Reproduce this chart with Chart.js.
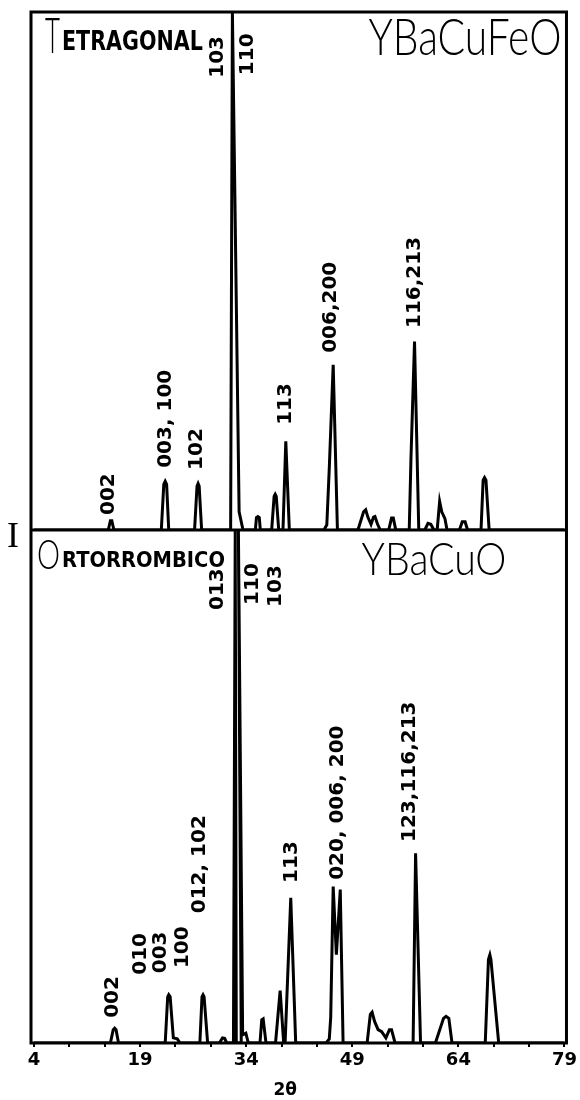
<!DOCTYPE html>
<html lang="es">
<head>
<meta charset="UTF-8">
<title>DRX YBaCuFeO / YBaCuO</title>
<style>
  html, body { margin: 0; padding: 0; background: #fff; }
  #drx { display: block; }
</style>
</head>
<body>
<canvas id="drx" width="580" height="1100"></canvas>
<script src="https://cdn.jsdelivr.net/npm/chart.js@4.4.1/dist/chart.umd.min.js"></script>
<script>
// [2theta (deg), intensity (% of panel height)]
const tetragonal = [
  [4, 0], [14.5, 0], [14.8, 1.8], [15.0, 1.8], [15.3, 0],
  [22.0, 0], [22.35, 8.8], [22.55, 9.4], [22.75, 8.8], [23.05, 0],
  [26.7, 0], [27.05, 8.5], [27.2, 9.0], [27.35, 8.5], [27.7, 0],
  [31.8, 0], [32.05, 100], [33.0, 3.5], [33.55, 0],
  [35.3, 0], [35.45, 2.4], [35.65, 2.6], [35.85, 2.4], [36.0, 0],
  [37.6, 0], [37.95, 6.5], [38.1, 6.9], [38.25, 6.5], [38.6, 0],
  [39.2, 0], [39.6, 17.1], [40.1, 0],
  [45.0, 0], [45.4, 1], [45.75, 12], [46.3, 31.9], [46.9, 0],
  [49.8, 0], [50.6, 3.5], [50.9, 3.9], [51.2, 2.5], [51.65, 1.1], [52.0, 2.5], [52.2, 2.6], [52.55, 1.2], [52.95, 0],
  [54.15, 0], [54.55, 2.3], [54.8, 2.3], [55.15, 0],
  [57.05, 0], [57.3, 14], [57.8, 36.4], [58.4, 0],
  [59.25, 0], [59.7, 1.3], [60.1, 1.1], [60.55, 0],
  [61.0, 0], [61.35, 5.5], [61.65, 3.5], [62.1, 2.2], [62.4, 0],
  [64.15, 0], [64.55, 1.6], [64.95, 1.6], [65.3, 0],
  [67.2, 0], [67.5, 9.6], [67.7, 10.1], [67.9, 9.6], [68.35, 0],
  [79, 0]
];

const ortorrombico = [
  [4, 0], [14.8, 0], [15.2, 2.6], [15.4, 2.9], [15.6, 2.6], [15.95, 0],
  [22.55, 0], [22.9, 9.0], [23.05, 9.4], [23.25, 9.0], [23.7, 1.0], [24.25, 0.8], [24.65, 0],
  [27.45, 0], [27.75, 9.0], [27.9, 9.4], [28.05, 9.0], [28.55, 0],
  [30.2, 0], [30.65, 1.0], [30.95, 0.9], [31.25, 0],
  [32.2, 0], [32.45, 100], [32.6, 0], [33.3, 0], [32.9, 100], [33.5, 1.6], [33.95, 1.9], [34.3, 0],
  [35.95, 0], [36.2, 4.5], [36.4, 4.7], [36.8, 0],
  [38.15, 0], [38.8, 10.2], [39.3, 0], [39.5, 0], [40.3, 28.3], [41.0, 0],
  [45.3, 0], [45.75, 0.8], [45.95, 5], [46.3, 30.5], [46.75, 17.2], [47.3, 29.9], [47.7, 0],
  [51.1, 0], [51.55, 5.6], [51.8, 6.0], [52.15, 4.2], [52.65, 2.6], [53.15, 2.2], [53.75, 1.0], [54.25, 2.6], [54.55, 2.6], [55.05, 0],
  [57.6, 0], [57.95, 37.0], [58.65, 0],
  [60.75, 0], [61.9, 4.8], [62.25, 5.2], [62.65, 4.8], [63.1, 0],
  [67.8, 0], [68.25, 16.3], [68.45, 17.2], [68.6, 16.3], [69.7, 0],
  [79, 0]
];

// x axis
const thetaTicks = [4, 19, 34, 49, 64, 79];
const thetaMinor = [4, 9, 14, 19, 24, 29, 34, 39, 44, 49, 54, 59, 64, 69, 74, 79];

// reflections: hkl, 2theta of the label, intensity where the label starts
const tetraHkl   = ['002', '003, 100', '102', '103', '110', '113', '006,200', '116,213'];
const tetraHklAt = [14.6, 22.6, 27.0, 30.0, 34.2, 39.6, 46.0, 57.8];
const tetraHklI  = [2.9, 12.0, 11.6, 87.3, 87.8, 20.3, 34.2, 39.0];

const ortoHkl   = ['002', '010', '003', '100', '012, 102', '013', '110', '103', '113', '020, 006, 200', '123,116,213'];
const ortoHklAt = [15.2, 19.1, 21.9, 25.0, 27.5, 30.0, 34.9, 38.2, 40.45, 47.0, 57.2];
const ortoHklI  = [4.9, 13.3, 13.6, 14.6, 25.3, 84.4, 85.4, 85.0, 31.2, 31.8, 39.2];

function toXY(list) {
    return list.map(function (p) { return { x: p[0], y: p[1] }; });
}

// draws text squeezed/stretched to a given width
function stretchText(ctx, text, x, y, width) {
    const w = ctx.measureText(text).width;
    ctx.save();
    ctx.translate(x, y);
    ctx.scale(width / w, 1);
    ctx.fillText(text, 0, 0);
    ctx.restore();
}

function hklLabels(chart, yScale, names, at, inten) {
    const ctx = chart.ctx;
    const xs = chart.scales.x;
    ctx.font = 'bold 20px "DejaVu Sans"';
    ctx.textAlign = 'left';
    ctx.textBaseline = 'middle';
    names.forEach(function (t, i) {
        ctx.save();
        ctx.translate(xs.getPixelForValue(at[i]), yScale.getPixelForValue(inten[i]));
        ctx.rotate(-Math.PI / 2);
        ctx.fillText(t, 0, 0);
        ctx.restore();
    });
}

const frameAndText = {
    id: 'frameAndText',
    afterDraw(chart) {
        const ctx = chart.ctx;
        const a = chart.chartArea;
        const top = chart.scales.yTop;
        const bot = chart.scales.yBot;
        const L = a.left - 3, R = a.right + 2;
        const mid = top.bottom;

        ctx.save();
        ctx.strokeStyle = '#000';
        ctx.lineWidth = 3;
        ctx.strokeRect(L, a.top, R - L, a.bottom - a.top);
        ctx.beginPath();
        ctx.moveTo(L, mid);
        ctx.lineTo(R, mid);
        ctx.stroke();

        ctx.fillStyle = '#000';
        hklLabels(chart, top, tetraHkl, tetraHklAt, tetraHklI);
        hklLabels(chart, bot, ortoHkl, ortoHklAt, ortoHklI);

        ctx.textAlign = 'left';
        ctx.textBaseline = 'alphabetic';

        // Tetragonal / YBaCuFeO
        ctx.font = '300 49px Lato';
        stretchText(ctx, 'T', L + 14, a.top + 41, 15);
        ctx.font = 'bold 27px "DejaVu Sans"';
        stretchText(ctx, 'ETRAGONAL', L + 31, a.top + 38, 141);
        ctx.font = '300 52px Lato';
        stretchText(ctx, 'YBaCuFeO', R - 198, a.top + 43, 193);

        // Ortorrombico / YBaCuO
        ctx.font = '300 41px Lato';
        stretchText(ctx, 'O', L + 6, mid + 39, 23);
        ctx.font = 'bold 21px "DejaVu Sans"';
        stretchText(ctx, 'RTORROMBICO', L + 31, mid + 37, 163);
        ctx.font = '300 46px Lato';
        stretchText(ctx, 'YBaCuO', R - 205, mid + 45, 145);

        // axis names
        ctx.font = '36px "Liberation Serif"';
        ctx.textAlign = 'center';
        ctx.fillText('I', 13, mid + 17);
        ctx.font = 'bold 17px "DejaVu Sans"';
        ctx.fillText('2θ', (a.left + a.right) / 2 - 14, a.bottom + 52);
        ctx.restore();
    }
};

const lineStyle = {
    borderColor: '#000',
    borderWidth: 3,
    pointRadius: 0,
    tension: 0,
    fill: false
};

new Chart(document.getElementById('drx'), {
    type: 'line',
    data: {
        datasets: [
            Object.assign({ label: 'YBaCuFeO', data: toXY(tetragonal), yAxisID: 'yTop' }, lineStyle),
            Object.assign({ label: 'YBaCuO', data: toXY(ortorrombico), yAxisID: 'yBot' }, lineStyle)
        ]
    },
    options: {
        responsive: false,
        animation: false,
        devicePixelRatio: 1,
        layout: { padding: { left: 34, right: 12, top: 12, bottom: 0 } },
        plugins: { legend: { display: false }, tooltip: { enabled: false } },
        scales: {
            x: {
                type: 'linear',
                min: 4,
                max: 79,
                afterBuildTicks: function (s) { s.ticks = thetaMinor.map(function (v) { return { value: v }; }); },
                afterFit: function (s) { s.height = 57; },
                grid: { drawOnChartArea: false, drawTicks: true, tickLength: 4, color: '#000', lineWidth: 2 },
                border: { display: false },
                ticks: {
                    autoSkip: false,
                    maxRotation: 0,
                    padding: 3,
                    color: '#000',
                    font: { family: 'DejaVu Sans', size: 18, weight: 'bold' },
                    callback: function (v) { return thetaTicks.includes(v) ? String(v) : ''; }
                }
            },
            // stacked panels: the first one listed ends up at the bottom
            yBot: {
                type: 'linear', min: 0, max: 100, position: 'left',
                stack: 'drx', stackWeight: 513,
                ticks: { display: false }, grid: { display: false }, border: { display: false },
                afterFit: function (s) { s.width = 0; }
            },
            yTop: {
                type: 'linear', min: 0, max: 100, position: 'left',
                stack: 'drx', stackWeight: 518,
                ticks: { display: false }, grid: { display: false }, border: { display: false },
                afterFit: function (s) { s.width = 0; }
            }
        }
    },
    plugins: [frameAndText]
});
</script>
</body>
</html>
